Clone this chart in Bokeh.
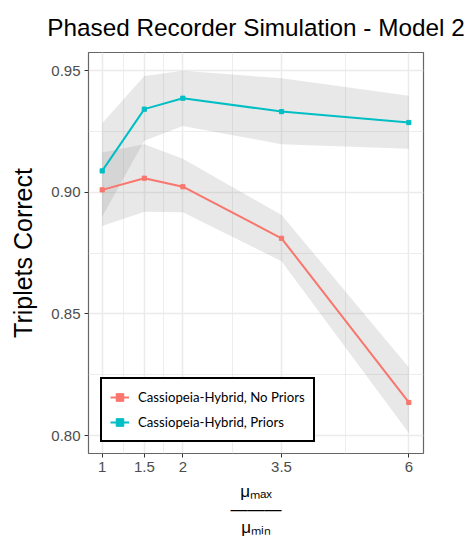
import numpy as np
from bokeh.plotting import figure
from bokeh.models import (FixedTicker, CustomJSTickFormatter, Range1d, Legend,
                          LegendItem, ColumnDataSource)
from bokeh.embed import file_html
from bokeh.resources import INLINE

# ---- data ----
ratio = [1, 1.5, 2, 3.5, 6]
tick_labels = ["1", "1.5", "2", "3.5", "6"]
no_priors = [0.9010, 0.9058, 0.9023, 0.8811, 0.8136]
no_priors_lo = [0.8862, 0.8920, 0.8918, 0.8717, 0.8010]
no_priors_hi = [0.9164, 0.9198, 0.9138, 0.8907, 0.8280]
priors = [0.9088, 0.9342, 0.9387, 0.9332, 0.9287]
priors_lo = [0.8900, 0.9212, 0.9273, 0.9198, 0.9179]
priors_hi = [0.9284, 0.9478, 0.9500, 0.9469, 0.9397]
y_ticks = [0.80, 0.85, 0.90, 0.95]
y_minor = [0.825, 0.875, 0.925]
series_names = ["Cassiopeia-Hybrid, No Priors", "Cassiopeia-Hybrid, Priors"]
series_colors = ["#F8766D", "#00BFC4"]
x_label = "μₘₐₓ\n———\nμₘᵢₙ"

# x axis uses a transformed scale (log(x + 4))
xt = list(np.log(np.array(ratio) + 4.0))
x_minor = [(xt[i] + xt[i + 1]) / 2 for i in range(len(xt) - 1)]

FONT = "Liberation Sans"

p = figure(frame_width=335, frame_height=401, output_backend="svg",
           toolbar_location=None, min_border_left=88, min_border_right=50,
           min_border_top=51, min_border_bottom=85,
           x_range=Range1d(1.5785, 2.3358), y_range=Range1d(0.7926, 0.9575))

p.title.text = "Phased Recorder Simulation - Model 2"
p.title.text_font = FONT
p.title.text_font_size = "24.3px"
p.title.text_font_style = "normal"
p.title.text_color = "black"
p.title.align = "center"
p.title.text_line_height = 1.0
p.title.standoff = 23

p.background_fill_color = "white"
p.border_fill_color = "white"
p.outline_line_color = "#666666"
p.outline_line_width = 1.2

# ticks
p.xaxis.ticker = FixedTicker(ticks=xt, minor_ticks=x_minor)
p.xaxis.formatter = CustomJSTickFormatter(args=dict(tvals=xt, tlabels=tick_labels), code="""
let best = 0;
for (let i = 0; i < tvals.length; i++) {
  if (Math.abs(tvals[i] - tick) < Math.abs(tvals[best] - tick)) best = i;
}
return tlabels[best];
""")
p.yaxis.ticker = FixedTicker(ticks=y_ticks, minor_ticks=y_minor)
p.yaxis.formatter = CustomJSTickFormatter(code="return tick.toFixed(2);")

for ax in (p.xaxis[0], p.yaxis[0]):
    ax.axis_line_color = None
    ax.major_tick_line_color = "#333333"
    ax.major_tick_in = 0
    ax.major_tick_out = 4
    ax.minor_tick_line_color = None
    ax.major_label_text_font = FONT
    ax.major_label_text_font_size = "15px"
    ax.major_label_text_color = "#4D4D4D"
    ax.major_label_standoff = 4

p.yaxis.axis_label = "Triplets Correct"
p.yaxis.axis_label_text_font = FONT
p.yaxis.axis_label_text_font_size = "25px"
p.yaxis.axis_label_text_font_style = "normal"
p.yaxis.axis_label_text_color = "black"
p.yaxis.axis_label_standoff = 11

p.xaxis.axis_label = x_label
p.xaxis.axis_label_text_font = FONT
p.xaxis.axis_label_text_font_size = "17px"
p.xaxis.axis_label_text_font_style = "normal"
p.xaxis.axis_label_text_color = "black"
p.xaxis.axis_label_text_line_height = 0.95
p.xaxis.axis_label_standoff = 7

for g in (p.xgrid[0], p.ygrid[0]):
    g.grid_line_color = "#EBEBEB"
    g.grid_line_width = 1.5
    g.minor_grid_line_color = "#EBEBEB"
    g.minor_grid_line_width = 0.9

# ribbons
src_np = ColumnDataSource(dict(x=xt, y=no_priors, lo=no_priors_lo, hi=no_priors_hi))
src_p = ColumnDataSource(dict(x=xt, y=priors, lo=priors_lo, hi=priors_hi))
for s in (src_np, src_p):
    p.varea(x="x", y1="lo", y2="hi", source=s, fill_color="#8C8C8C", fill_alpha=0.2)

renderers = []
for s, c in zip((src_np, src_p), series_colors):
    l = p.line("x", "y", source=s, line_color=c, line_width=2)
    m = p.scatter("x", "y", source=s, marker="square", size=4.2, fill_color=c, line_color=c)
    renderers.append([l, m])

legend = Legend(items=[LegendItem(label=n, renderers=r) for n, r in zip(series_names, renderers)],
                location=(12, 11))
legend.border_line_color = "black"
legend.border_line_alpha = 1
legend.border_line_width = 2
legend.background_fill_color = "white"
legend.background_fill_alpha = 1
legend.label_text_font = "Lato"
legend.label_text_font_size = "13.2px"
legend.label_text_color = "black"
legend.glyph_width = 19
legend.glyph_height = 20
legend.label_standoff = 9
legend.padding = 8
legend.spacing = 5
legend.margin = 0
p.add_layout(legend)

open("out.html", "w").write(file_html(p, INLINE))
